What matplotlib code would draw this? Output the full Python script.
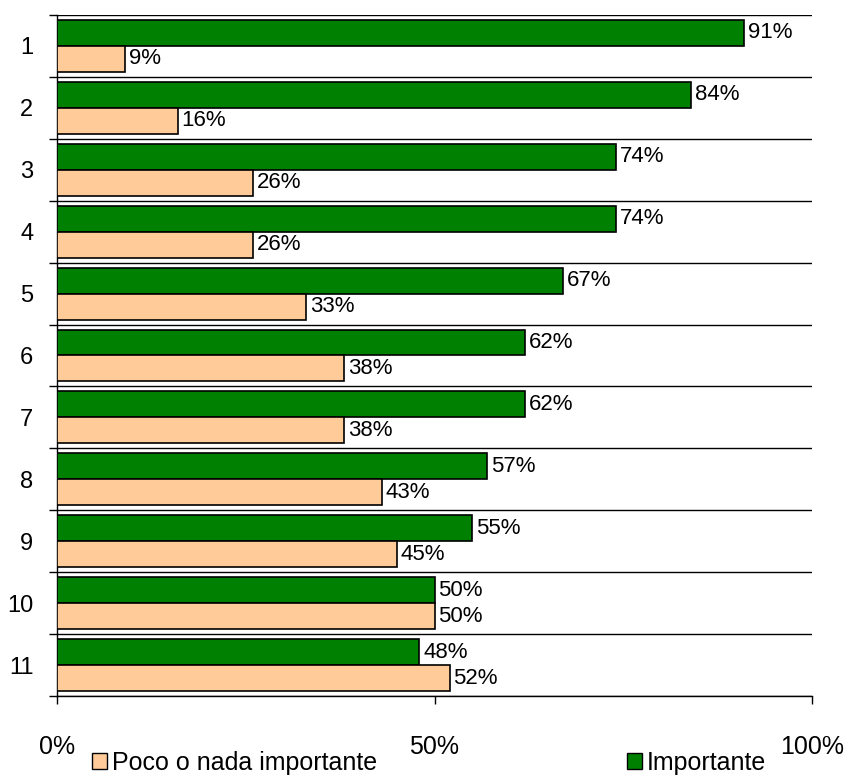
import numpy as np
import matplotlib
matplotlib.use("Agg")
import matplotlib.pyplot as plt
from matplotlib.patches import Patch

categories = ["1", "2", "3", "4", "5", "6", "7", "8", "9", "10", "11"]
importante = [91, 84, 74, 74, 67, 62, 62, 57, 55, 50, 48]
poco = [9, 16, 26, 26, 33, 38, 38, 43, 45, 50, 52]

GREEN = "#008000"
PEACH = "#FFCC99"

plt.rcParams["font.family"] = ["Liberation Sans", "DejaVu Sans"]
plt.rcParams["font.size"] = 16

fig = plt.figure(figsize=(8.46, 7.76), dpi=100)
ax = fig.add_axes([57 / 846, 1 - 696 / 776, (812 - 57) / 846, (696 - 15) / 776])

n = len(categories)
y = np.arange(n)
h = 26 / 62

ax.barh(y - h / 2, importante, height=h, color=GREEN, edgecolor="black", linewidth=1.2, zorder=3)
ax.barh(y + h / 2, poco, height=h, color=PEACH, edgecolor="black", linewidth=1.2, zorder=3)

for yi, v in zip(y, importante):
    ax.text(v + 0.5, yi - h / 2, f"{v}%", va="center", ha="left", fontsize=16)
for yi, v in zip(y, poco):
    ax.text(v + 0.5, yi + h / 2, f"{v}%", va="center", ha="left", fontsize=16)

ax.set_xlim(0, 100)
ax.set_ylim(n - 0.5, -0.5)

# band boundaries as major ticks + grid, category labels on minor ticks
ax.set_yticks(np.arange(-0.5, n, 1.0))
ax.set_yticklabels([])
ax.set_yticks(y, minor=True)
ax.set_yticklabels(categories, minor=True)
ax.tick_params(axis="y", which="major", length=6, width=1, color="black")
ax.tick_params(axis="y", which="minor", length=0, pad=17, labelsize=17)
ax.grid(axis="y", which="major", color="black", linewidth=1, zorder=1)

ax.set_xticks([0, 50, 100])
ax.set_xticklabels(["0%", "50%", "100%"])
ax.tick_params(axis="x", length=6, width=1, pad=22, labelsize=18)

for s in ["top", "right"]:
    ax.spines[s].set_visible(False)
ax.spines["left"].set_linewidth(1)
ax.spines["bottom"].set_linewidth(1)

handles = [Patch(facecolor=PEACH, edgecolor="black", label="Poco o nada importante"),
           Patch(facecolor=GREEN, edgecolor="black", label="Importante")]
fig.legend(handles=handles, loc="center left", bbox_to_anchor=(92 / 846, 1 - 763 / 776),
           ncol=2, frameon=False, fontsize=18, handlelength=0.6, handleheight=0.6,
           handletextpad=0.2, columnspacing=10.0, borderaxespad=0, borderpad=0)

fig.savefig("out.png", dpi=100)
